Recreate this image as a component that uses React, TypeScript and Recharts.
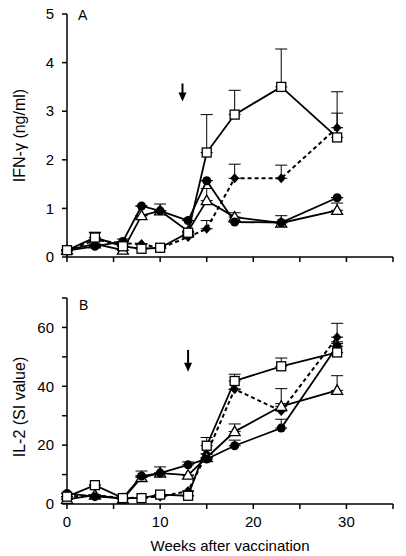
import { LineChart, Line, XAxis, YAxis, ErrorBar, ReferenceDot } from 'recharts'

// weeks after vaccination (sampling points)
const weeks = [0, 3, 6, 8, 10, 13, 15, 18, 23, 29]

// panel A: IFN-gamma (ng/ml)
const ifnSquare = [0.14, 0.4, 0.22, 0.17, 0.19, 0.5, 2.15, 2.93, 3.5, 2.46]
const ifnSquareErr = [0, 0.1, 0, 0, 0, 0, 0.78, 0.5, 0.78, 0.5]
const ifnDiamond = [0.13, 0.35, 0.28, 0.27, 0.18, 0.41, 0.58, 1.62, 1.62, 2.66]
const ifnDiamondErr = [0, 0, 0, 0, 0, 0, 0.17, 0.29, 0.27, 0.74]
const ifnCircle = [0.13, 0.22, 0.32, 1.05, 0.95, 0.75, 1.57, 0.72, 0.71, 1.22]
const ifnCircleErr = [0, 0, 0.05, 0, 0, 0, 0, 0, 0, 0]
const ifnTriangle = [0.14, 0.27, 0.14, 0.85, 0.95, 0.53, 1.16, 0.82, 0.7, 0.96]
const ifnTriangleErr = [0, 0.24, 0, 0, 0.14, 0, 0.25, 0.09, 0.15, 0.15]

// panel B: IL-2 (SI value)
const il2Square = [2.5, 6.4, 2, 2, 3.2, 2.8, 19.8, 41.8, 46.8, 51.5]
const il2SquareErr = [0, 0, 0, 0, 0, 0, 2.8, 2.3, 2.8, 3]
const il2Diamond = [2.5, 3, 2, 2.2, 2.5, 4.4, 17, 39, 31.6, 56.7]
const il2DiamondErr = [0, 0, 0, 0, 0, 0, 0, 0, 2.5, 4.7]
const il2Circle = [3.6, 2.5, 2, 9.5, 10.5, 13.3, 15.3, 19.8, 25.8, 53.6]
const il2CircleErr = [0, 0, 0, 0, 0, 1, 0, 1.9, 3, 1.5]
const il2Triangle = [1.6, 3, 1.7, 9, 10.5, 9.8, 15.8, 24.6, 33.2, 38.6]
const il2TriangleErr = [0, 0, 0, 2.2, 2.1, 0, 0, 2.6, 6, 5]

const xTicks = [0, 5, 10, 15, 20, 25, 30, 35]
const ifnTicks = [0, 1, 2, 3, 4, 5]
const il2Ticks = [0, 10, 20, 30, 40, 50, 60, 70]

const boostWeekA = 12.4
const boostWeekB = 13

const font = 'Liberation Sans, Arial, sans-serif'

const build = (sq: number[], sqE: number[], di: number[], diE: number[], ci: number[], ciE: number[], tr: number[], trE: number[]) =>
  weeks.map((w, i) => ({
    week: w,
    sq: sq[i], sqE: [0, sqE[i]],
    di: di[i], diE: [0, diE[i]],
    ci: ci[i], ciE: [0, ciE[i]],
    tr: tr[i], trE: [0, trE[i]],
  }))

const dataA = build(ifnSquare, ifnSquareErr, ifnDiamond, ifnDiamondErr, ifnCircle, ifnCircleErr, ifnTriangle, ifnTriangleErr)
const dataB = build(il2Square, il2SquareErr, il2Diamond, il2DiamondErr, il2Circle, il2CircleErr, il2Triangle, il2TriangleErr)

const SquareDot = (p: any) => (
  <rect key={'s' + p.index} x={p.cx - 4.5} y={p.cy - 4.5} width={9} height={9} fill="#fff" stroke="#000" strokeWidth={1.3} />
)
const CircleDot = (p: any) => <circle key={'c' + p.index} cx={p.cx} cy={p.cy} r={4.5} fill="#000" />
const TriangleDot = (p: any) => (
  <path key={'t' + p.index} d={`M${p.cx},${p.cy - 5.5} L${p.cx + 5.5},${p.cy + 4} L${p.cx - 5.5},${p.cy + 4} Z`} fill="#fff" stroke="#000" strokeWidth={1.3} />
)
const DiamondDot = (p: any) => (
  <path key={'d' + p.index} d={`M${p.cx},${p.cy - 5} L${p.cx + 4.5},${p.cy} L${p.cx},${p.cy + 5} L${p.cx - 4.5},${p.cy} Z`} fill="#000" />
)

const Arrow = (len: number) => (p: any) => (
  <g>
    <line x1={p.cx} y1={p.cy - len} x2={p.cx} y2={p.cy - 7} stroke="#000" strokeWidth={2} />
    <path d={`M${p.cx - 4},${p.cy - 9} L${p.cx + 4},${p.cy - 9} L${p.cx},${p.cy} Z`} fill="#000" />
  </g>
)

const makeTick = (show: (v: number) => boolean, dy: string) => (props: any) => {
  const { x, y, payload, textAnchor } = props
  if (!show(payload.value)) return <g />
  return (
    <text x={x} y={y} dy={dy} textAnchor={textAnchor} fontSize={15} fontFamily={font} fill="#000">
      {payload.value}
    </text>
  )
}

const yLabelContent = (text: string, shift: number) => (props: any) => {
  const vb = props.viewBox
  const cx = 19
  const cy = vb.y + vb.height / 2 + shift
  return (
    <text x={cx} y={cy} transform={`rotate(-90, ${cx}, ${cy})`} textAnchor="middle" dominantBaseline="central" fontSize={16} fontFamily={font} fill="#000">
      {text}
    </text>
  )
}

function Panel({ data, height, top, bottomH, yMax, yTicks, yLabel, yShift, yTickShow, xLabels, arrowX, arrowY, arrowLen }: any) {
  return (
    <LineChart width={406} height={height} data={data} margin={{ top, right: 13, left: 0, bottom: 0 }}>
      <XAxis
        dataKey="week"
        type="number"
        domain={[0, 35]}
        ticks={xTicks}
        interval={0}
        stroke="#000"
        strokeWidth={1.5}
        tickSize={5}
        tickMargin={7}
        height={bottomH}
        tick={makeTick((v) => xLabels && v % 10 === 0 && v < 35, '0.71em')}
        label={xLabels ? { value: 'Weeks after vaccination', position: 'insideBottom', offset: 5, style: { fontSize: 15, fontFamily: font, fill: '#000' } } : undefined}
      />
      <YAxis
        type="number"
        domain={[0, yMax]}
        ticks={yTicks}
        interval={0}
        width={67}
        stroke="#000"
        strokeWidth={1.5}
        tickSize={5}
        tickMargin={8}
        tick={makeTick(yTickShow, '0.35em')}
        label={{ content: yLabelContent(yLabel, yShift) }}
      />
      <Line dataKey="di" type="linear" stroke="#000" strokeWidth={2} strokeDasharray="4 3" dot={DiamondDot} activeDot={false} isAnimationActive={false}>
        <ErrorBar dataKey="diE" direction="y" width={6} stroke="#000" strokeWidth={1} />
      </Line>
      <Line dataKey="tr" type="linear" stroke="#000" strokeWidth={1.8} dot={TriangleDot} activeDot={false} isAnimationActive={false}>
        <ErrorBar dataKey="trE" direction="y" width={6} stroke="#000" strokeWidth={1} />
      </Line>
      <Line dataKey="ci" type="linear" stroke="#000" strokeWidth={1.8} dot={CircleDot} activeDot={false} isAnimationActive={false}>
        <ErrorBar dataKey="ciE" direction="y" width={6} stroke="#000" strokeWidth={1} />
      </Line>
      <Line dataKey="sq" type="linear" stroke="#000" strokeWidth={1.8} dot={SquareDot} activeDot={false} isAnimationActive={false}>
        <ErrorBar dataKey="sqE" direction="y" width={6} stroke="#000" strokeWidth={1} />
      </Line>
      <ReferenceDot x={arrowX} y={arrowY} shape={Arrow(arrowLen)} />
    </LineChart>
  )
}

export default function App() {
  return (
    <div style={{ position: 'absolute', left: 0, top: 0, width: 406, height: 556, background: '#fff' }}>
      <div style={{ position: 'absolute', left: 0, top: 0 }}>
        <Panel data={dataA} height={275} top={14} bottomH={18} yMax={5} yTicks={ifnTicks} yLabel="IFN-γ (ng/ml)" yShift={0}
          yTickShow={() => true} xLabels={false} arrowX={boostWeekA} arrowY={3.2} arrowLen={18} />
      </div>
      <div style={{ position: 'absolute', left: 0, top: 280 }}>
        <Panel data={dataB} height={276} top={18} bottomH={52} yMax={70} yTicks={il2Ticks} yLabel="IL-2 (SI value)" yShift={6}
          yTickShow={(v: number) => v % 20 === 0 && v < 70} xLabels arrowX={boostWeekB} arrowY={44.9} arrowLen={22} />
      </div>
      <div style={{ position: 'absolute', left: 78, top: 8, fontSize: 14, lineHeight: 1, fontFamily: font }}>A</div>
      <div style={{ position: 'absolute', left: 79, top: 298, fontSize: 14, lineHeight: 1, fontFamily: font }}>B</div>
    </div>
  )
}
